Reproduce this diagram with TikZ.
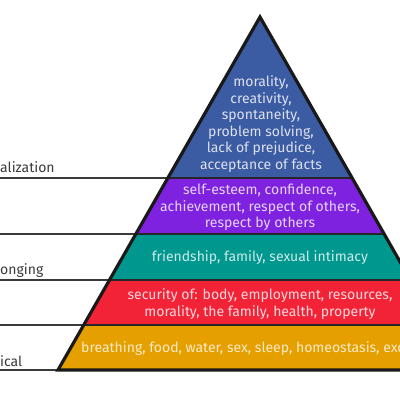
\documentclass[tikz,border=0pt]{standalone}
\usepackage{fontspec}
\setmainfont{Fira Sans}
\definecolor{cblue}{HTML}{3B5BA3}
\definecolor{cpurple}{HTML}{7F22E0}
\definecolor{cteal}{HTML}{00978F}
\definecolor{cred}{HTML}{F22336}
\definecolor{corange}{HTML}{E5A000}
\definecolor{cline}{HTML}{3A3A3A}
\begin{document}
\begin{tikzpicture}[x=1pt,y=-1pt,
  bandtext/.style={align=center,font=\fontsize{14}{16.5}\selectfont,inner sep=0pt},
  sidelabel/.style={anchor=base west,font=\fontsize{14}{16}\selectfont,text=cline,inner sep=0pt},
  sep/.style={line width=2pt,draw=black!85},
  leftline/.style={line width=2.2pt,draw=cline}]
\useasboundingbox (0,0) rectangle (400,400);
\clip (0,0) rectangle (400,400);
% band corners
\coordinate (A) at (260,17);
\coordinate (L1) at (168,178); \coordinate (R1) at (352,178);
\coordinate (L2) at (136,234); \coordinate (R2) at (384,234);
\coordinate (L3) at (110,280); \coordinate (R3) at (410,280);
\coordinate (L4) at (84,325);  \coordinate (R4) at (436,325);
\coordinate (L5) at (58,370);  \coordinate (R5) at (462,370);
\coordinate (E1) at (0,178); \coordinate (E2) at (0,234); \coordinate (E3) at (0,280);
\coordinate (E4) at (0,325); \coordinate (E5) at (0,370);
% fills
\fill[cblue] (A) -- (R1) -- (L1) -- cycle;
\fill[cpurple] (L1) -- (R1) -- (R2) -- (L2) -- cycle;
\fill[cteal] (L2) -- (R2) -- (R3) -- (L3) -- cycle;
\fill[cred] (L3) -- (R3) -- (R4) -- (L4) -- cycle;
\fill[corange] (L4) -- (R4) -- (R5) -- (L5) -- cycle;
% separators
\draw[sep] (L1) -- (R1);
\draw[sep] (L2) -- (R2);
\draw[sep] (L3) -- (R3);
\draw[sep] (L4) -- (R4);
% left lines
\draw[leftline] (E1) -- (L1);
\draw[leftline] (E2) -- (L2);
\draw[leftline] (E3) -- (L3);
\draw[leftline] (E4) -- (L4);
\draw[leftline] (E5) -- (L5);
% outline
\draw[line width=3.2pt,black!90,line join=miter] (A) -- (R5) -- (L5) -- cycle;
% band texts
\node[bandtext,text=white!82!cblue] (t1) at (261,124) {morality,\\creativity,\\spontaneity,\\problem solving,\\lack of prejudice,\\acceptance of facts};
\node[bandtext,text=white!80!cpurple] (t2) at (260,207.5) {self-esteem, confidence,\\achievement, respect of others,\\respect by others};
\node[bandtext,text=white!80!cteal] (t3) at (260,258) {friendship, family, sexual intimacy};
\node[bandtext,text=white!82!cred] (t4) at (260,304) {security of: body, employment, resources,\\morality, the family, health, property};
\node[bandtext,text=white!78!corange,anchor=west] (t5) at (81,349) {breathing, food, water, sex, sleep, homeostasis, excretion};
% side labels
\node[sidelabel] (s1) at (0,172.5) {alization};
\node[sidelabel] (s2) at (0,274.5) {onging};
\node[sidelabel] (s3) at (0,366.5) {ical};
\end{tikzpicture}
\end{document}
